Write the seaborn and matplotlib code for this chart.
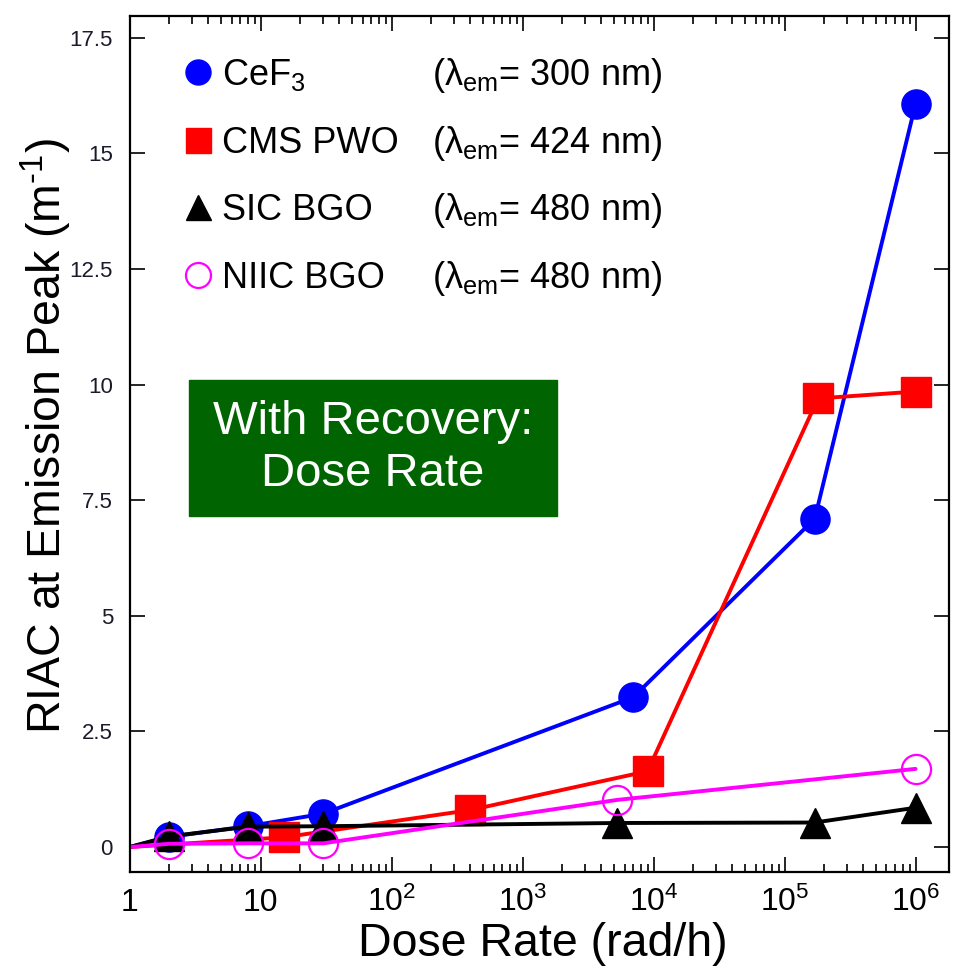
import matplotlib.pyplot as plt
import seaborn as sns
from matplotlib import font_manager
from matplotlib.lines import Line2D
from matplotlib.patches import Rectangle
from matplotlib.ticker import LogLocator, NullFormatter, NullLocator

# dose rate (rad/h) and RIAC (1/m); every curve starts at (1, 0) without a marker
cef3_dose = [1, 2, 8, 30, 7000, 1.7e5, 1e6]
cef3_riac = [0, 0.22, 0.45, 0.72, 3.24, 7.1, 16.07]
pwo_dose = [1, 15, 400, 9000, 1.8e5, 1e6]
pwo_riac = [0, 0.21, 0.8, 1.64, 9.7, 9.85]
sic_dose = [1, 2, 8, 30, 5300, 1.7e5, 1e6]
sic_riac = [0, 0.23, 0.44, 0.45, 0.52, 0.53, 0.85]
niic_dose = [1, 2, 8, 30, 5300, 1e6]
niic_riac = [0, 0.07, 0.08, 0.08, 1.02, 1.69]

series_names = ['CeF$_3$', 'CMS PWO', 'SIC BGO', 'NIIC BGO']
series_peaks = ['300', '424', '480', '480']

x_tick_values = [1, 10, 1e2, 1e3, 1e4, 1e5, 1e6]
x_tick_labels = ['1', '10', '10$^{2}$', '10$^{3}$', '10$^{4}$', '10$^{5}$', '10$^{6}$']
y_tick_values = [0, 2.5, 5, 7.5, 10, 12.5, 15, 17.5]
y_tick_labels = ['0', '2.5', '5', '7.5', '10', '12.5', '15', '17.5']

styles = [
    dict(color='#0000ff', marker='o', mfc='#0000ff', mew=1),
    dict(color='#ff0000', marker='s', mfc='#ff0000', mew=1),
    dict(color='black', marker='^', mfc='black', mew=1),
    dict(color='#ff00ff', marker='o', mfc='none', mew=1.6),
]

sns.set_style('ticks')
installed = {f.name for f in font_manager.fontManager.ttflist}
narrow = 'Liberation Sans Narrow' if 'Liberation Sans Narrow' in installed else 'Liberation Sans'
plt.rcParams['font.family'] = ['Liberation Sans', 'DejaVu Sans']
plt.rcParams['mathtext.fontset'] = 'custom'
plt.rcParams['mathtext.rm'] = 'Liberation Sans'
plt.rcParams['mathtext.it'] = 'Liberation Sans:italic'
plt.rcParams['mathtext.bf'] = 'Liberation Sans:bold'
plt.rcParams['text.color'] = 'black'
plt.rcParams['axes.labelcolor'] = 'black'
plt.rcParams['xtick.color'] = 'black'
plt.rcParams['ytick.color'] = 'black'


def draw_series(ax, dose, riac, style):
    sns.lineplot(x=dose, y=riac, ax=ax, errorbar=None, sort=False,
                 color=style['color'], lw=2.8, marker=style['marker'], ms=21,
                 mfc=style['mfc'], mec=style['color'], mew=style['mew'],
                 markevery=list(range(1, len(dose))))


fig = plt.figure(figsize=(9.61, 9.66), dpi=100)
ax = fig.add_axes([0.1349, 0.0973, 0.8526, 0.8861])

for (dose, riac), style in zip([(cef3_dose, cef3_riac), (pwo_dose, pwo_riac),
                                (sic_dose, sic_riac), (niic_dose, niic_riac)], styles):
    draw_series(ax, dose, riac, style)

ax.set_xscale('log')
ax.set_xlim(1, 1.8e6)
ax.set_ylim(-0.54, 17.97)

ax.set_xticks(x_tick_values, x_tick_labels)
ax.xaxis.set_minor_locator(LogLocator(base=10, subs=range(2, 10)))
ax.xaxis.set_minor_formatter(NullFormatter())
ax.set_yticks(y_tick_values, y_tick_labels)
ax.yaxis.set_minor_locator(NullLocator())

ax.tick_params(which='both', direction='in', top=True, right=True, width=1.2, color='black')
ax.tick_params(which='major', length=11)
ax.tick_params(which='minor', length=5.5)
ax.tick_params(axis='y', labelsize=16, labelcolor='#1a1a2a', pad=12)
ax.tick_params(axis='x', labelsize=23, labelcolor='black', pad=28)
for lbl in ax.get_xticklabels():
    lbl.set_family([narrow, 'Liberation Sans'])
    lbl.set_verticalalignment('baseline')
for spine in ax.spines.values():
    spine.set_linewidth(1.6)
    spine.set_color('black')

ax.set_xlabel('Dose Rate (rad/h)', fontsize=33.5)
ax.xaxis.set_label_coords(0.5045, -0.058)
ax.set_ylabel('RIAC at Emission Peak (m$^{\\text{-}1}$)', fontsize=33.5)
ax.yaxis.set_label_coords(-0.0685, 0.509)

handles = [Line2D([], [], ls='none', marker=s['marker'], ms=18, color=s['color'],
                  mfc=s['mfc'], mec=s['color'], mew=s['mew']) for s in styles]
leg = ax.legend(handles, series_names, loc='upper left', bbox_to_anchor=(0.0676, 0.952),
                frameon=False, fontsize=26, handlelength=0.7, handletextpad=0.33,
                labelspacing=0.9, borderpad=0, borderaxespad=0, labelcolor='black')

# the emission wavelength column sits on the same baselines as the legend rows
fig.canvas.draw()
to_fig = fig.transFigure.inverted()
for text, peak in zip(leg.get_texts(), series_peaks):
    base = text.get_transform().transform((0, 0))
    fy = to_fig.transform(base)[1]
    fig.text(432 / 961, fy, '(λ$_{\\mathrm{em}}$= ' + peak + ' nm)', fontsize=26,
             va='baseline', color='black')

ax.add_patch(Rectangle((0.0725, 0.4159), 0.4491, 0.1589, transform=ax.transAxes,
                       color='#006400', zorder=4))
ax.text(0.297, 0.4953, 'With Recovery:\nDose Rate', transform=ax.transAxes, ha='center',
        va='center', color='white', fontsize=34, linespacing=1.22, zorder=5)

fig.savefig('out.png', dpi=100)
